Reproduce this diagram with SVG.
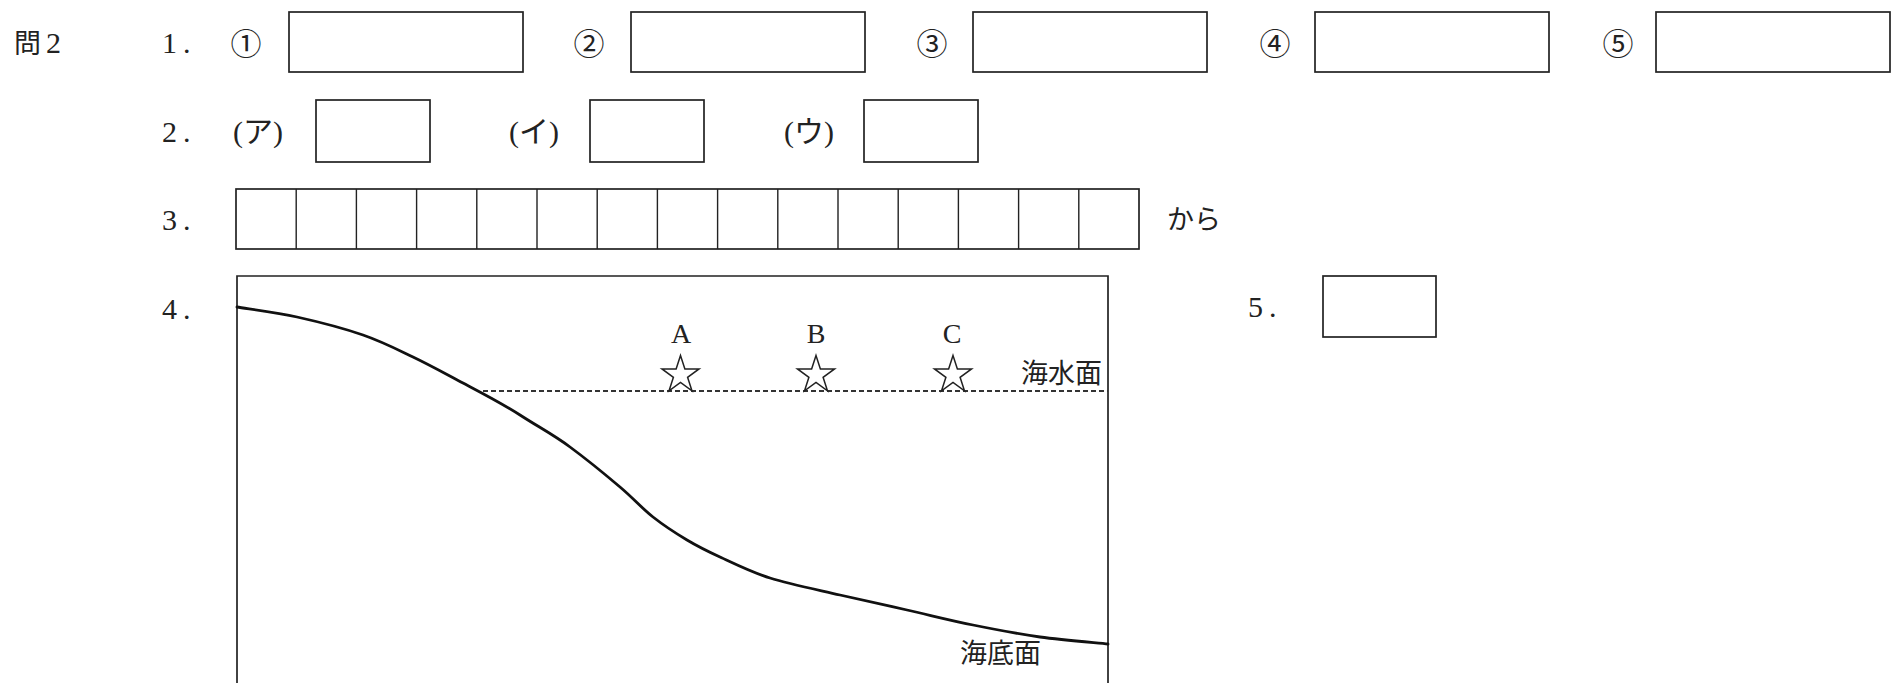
<svg xmlns="http://www.w3.org/2000/svg" xmlns:xlink="http://www.w3.org/1999/xlink" width="1898" height="683" viewBox="0 0 1898 683">
<style>
.bx{fill:none;stroke:#222;stroke-width:1.7}
.ln{fill:none;stroke:#222;stroke-width:1.4}
.t{font-family:"Liberation Serif","Noto Sans CJK JP",serif;font-size:30px;fill:#222}
.j{font-family:"Noto Sans CJK JP","Noto Sans CJK SC",sans-serif;font-size:27px;fill:#222}
.c{font-family:"Noto Sans CJK JP","Noto Sans CJK SC",sans-serif;font-size:31px;fill:#222;text-anchor:middle}
.lab{font-family:"Liberation Serif",serif;font-size:28px;fill:#222;text-anchor:middle}
.star{fill:none;stroke:#222;stroke-width:1.5;stroke-linejoin:miter}
</style>
<defs>
<polygon id="star" class="star" points="0,-19.5 4.38,-6.03 18.55,-6.03 7.09,2.3 11.46,15.78 0,7.45 -11.46,15.78 -7.09,2.3 -18.55,-6.03 -4.38,-6.03"/>
</defs>
<rect width="1898" height="683" fill="#fff"/>

<g id="title">
<text class="j" x="14" y="53" font-size="25">問<tspan class="t" x="46">2</tspan></text>
</g>

<g id="q1">
<text class="t" x="162" y="53">1<tspan x="183">.</tspan></text>
<text class="c" x="246" y="55">①</text>
<rect class="bx" x="289" y="12" width="234" height="60"/>
<text class="c" x="589" y="55">②</text>
<rect class="bx" x="631" y="12" width="234" height="60"/>
<text class="c" x="932" y="55">③</text>
<rect class="bx" x="973" y="12" width="234" height="60"/>
<text class="c" x="1275" y="55">④</text>
<rect class="bx" x="1315" y="12" width="234" height="60"/>
<text class="c" x="1618" y="55">⑤</text>
<rect class="bx" x="1656" y="12" width="234" height="60"/>
</g>

<g id="q2">
<text class="t" x="162" y="142">2<tspan x="183">.</tspan></text>
<text class="t" x="233" y="142">(ア)</text>
<rect class="bx" x="316" y="100" width="114" height="62"/>
<text class="t" x="509" y="142">(イ)</text>
<rect class="bx" x="590" y="100" width="114" height="62"/>
<text class="t" x="784" y="142">(ウ)</text>
<rect class="bx" x="864" y="100" width="114" height="62"/>
</g>

<g id="q3">
<text class="t" x="162" y="230">3<tspan x="183">.</tspan></text>
<rect class="bx" x="236" y="189" width="903" height="60"/>
<path class="ln" d="M296.2,189V249M356.4,189V249M416.6,189V249M476.8,189V249M537,189V249M597.2,189V249M657.4,189V249M717.6,189V249M777.8,189V249M838,189V249M898.2,189V249M958.4,189V249M1018.6,189V249M1078.8,189V249"/>
<text class="j" x="1167" y="229" font-size="26">から</text>
</g>

<g id="q4">
<text class="t" x="162" y="319">4<tspan x="183">.</tspan></text>
<path class="bx" d="M237,690V276H1108V690"/>
<path fill="none" stroke="#333" stroke-width="2" stroke-dasharray="5 3" d="M483,391H1108"/>
<path fill="none" stroke="#111" stroke-width="2.8" stroke-linecap="round" d="M237,307 C247,308.7 276,312.3 297,317 C318,321.7 343.7,328.3 363,335 C382.3,341.7 396.3,349 413,357 C429.7,365 445,373.5 463,383 C481,392.5 501.5,403 520,415 C538.5,427 553.5,434.7 570,447 C586.7,459.3 606.2,475.3 620,487 C633.8,498.7 641.8,508.2 653,517 C664.2,525.8 675.8,533.3 687,540 C698.2,546.7 706.2,550.7 720,557 C733.8,563.3 750,571.7 770,578 C790,584.3 817.2,589.7 840,595 C862.8,600.3 884.8,605 907,610 C929.2,615 950.8,620.5 973,625 C995.2,629.5 1017.5,633.8 1040,637 C1062.5,640.2 1096.7,642.8 1108,644"/>
<text class="lab" x="681" y="343">A</text>
<text class="lab" x="816" y="343">B</text>
<text class="lab" x="952" y="343">C</text>
<use xlink:href="#star" href="#star" x="680.5" y="375"/>
<use xlink:href="#star" href="#star" x="816" y="375"/>
<use xlink:href="#star" href="#star" x="953" y="375"/>
<text class="j" x="1021" y="383" font-size="28">海水面</text>
<text class="j" x="960" y="663" font-size="28">海底面</text>
</g>

<g id="q5">
<text class="t" x="1248" y="317">5<tspan x="1269">.</tspan></text>
<rect class="bx" x="1323" y="276" width="113" height="61"/>
</g>
</svg>
